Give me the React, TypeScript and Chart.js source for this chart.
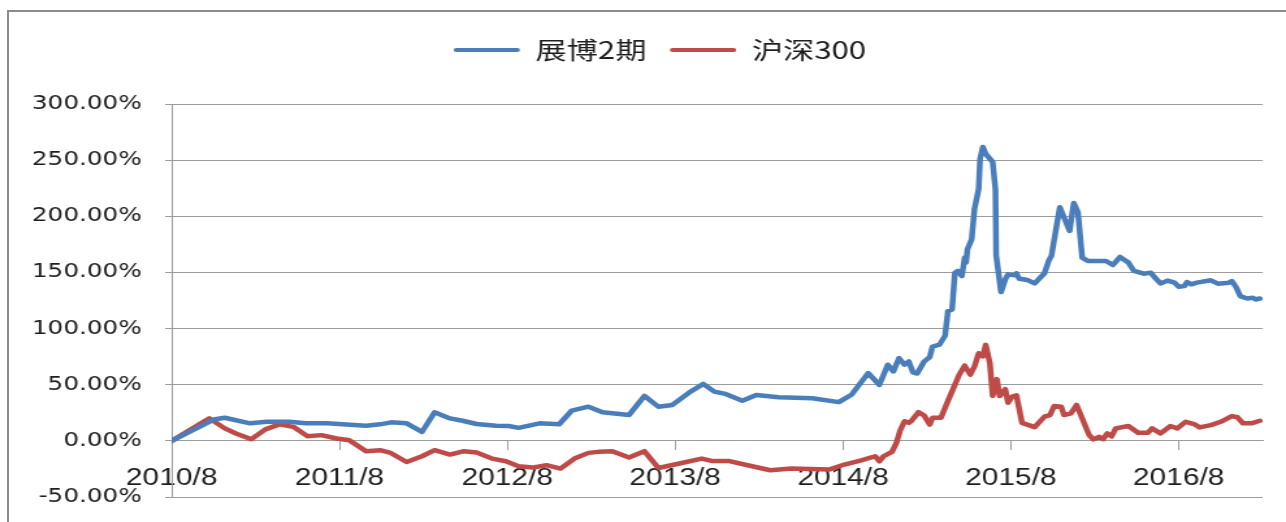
import React, { useEffect, useRef } from "react";
import { Chart, registerables } from "chart.js";

Chart.register(...registerables);

// internal drawing width, stretched horizontally to the full 1286px picture
const W = 989;
const H = 522;
const S = 1286 / W;

const seriesNames = ["展博2期", "沪深300"];
const BLUE = "#4A7EBB";
const RED = "#BE4B48";
const GRID = "#9c9c9c";
const TEXT = "#1e1e1e";

// x values are months counted from 2010/8
const xTickMonths = [0, 12, 24, 36, 48, 60, 72];
const xTickLabels = ["2010/8", "2011/8", "2012/8", "2013/8", "2014/8", "2015/8", "2016/8"];
const yTickValues = [-50, 0, 50, 100, 150, 200, 250, 300];

const zbMonths = [
  0, 3.0, 3.8, 5.6, 6.8, 8.4, 9.6, 11.1, 12.2, 13.9, 14.9, 15.7, 16.8, 17.9, 18.8, 19.9, 20.8, 21.8,
  23.2, 24.1, 24.8, 26.3, 27.7, 28.6, 29.8, 30.8, 32.7, 33.8, 34.8, 35.8, 37, 38, 38.8, 39.6, 40.8,
  41.8, 43.4, 45.8, 47.7, 48.6, 49.8, 50.6, 51.2, 51.6, 52, 52.4, 52.7, 53, 53.3, 53.8, 54.2, 54.4,
  54.9, 55.3, 55.5, 55.8, 56, 56.2, 56.5, 56.7, 56.8, 56.9, 57.2, 57.4, 57.7, 57.8, 58, 58.2, 58.7,
  58.9, 58.95, 59.3, 59.6, 59.8, 60.3, 60.4, 60.6, 61.2, 61.7, 62.4, 62.7, 62.9, 63.5, 63.8, 64.2,
  64.5, 64.8, 65.1, 65.5, 66.8, 67.3, 67.8, 68.4, 68.8, 69.5, 70, 70.3, 70.7, 71.2, 71.7, 72, 72.4,
  72.6, 72.9, 73.3, 74.3, 74.8, 75.6, 75.8, 76.1, 76.4, 76.9, 77.3, 77.5, 77.8,
];
const zbValues = [
  0, 19, 20.6, 15.6, 17, 17, 15.6, 15.6, 14.7, 13.4, 14.7, 16.5, 15.6, 8, 25.4, 20, 17.9, 15,
  13.4, 13.2, 11.6, 15.6, 14.7, 26.9, 30.4, 25.4, 23, 40, 30.4, 32, 43, 50.7, 43.9, 41.8, 35.8,
  40.9, 38.8, 37.9, 34.5, 41, 60.3, 49.9, 67.8, 61.8, 73.7, 67.8, 70.7, 60.9, 60, 70.7, 74.6, 84,
  85.7, 93.7, 115.5, 117, 149.8, 151.3, 146.8, 163.2, 158.8, 170.7, 179.6, 206.5, 224.4, 251.2, 261.7, 255.7, 248.3,
  224, 165, 132.5, 143.8, 148.3, 147.4, 149.2, 144.4, 143.2, 140.2, 149.2, 160.2, 164.7, 208, 199, 187,
  211.8, 203.5, 163.2, 160.2, 160.2, 156.6, 163.8, 158.8, 151.3, 148.9, 149.8, 145.4, 140.2, 142.7, 140.9, 137.3, 137.8,
  141.4, 139.4, 140.9, 143, 140, 140.9, 142.3, 137, 128.9, 126.8, 127.4, 125.9, 126.8,
];

const hsMonths = [
  0, 2.7, 3.8, 4.6, 5.7, 6.7, 7.7, 8.7, 9.7, 10.7, 11.8, 12.7, 13.9, 14.9, 15.6, 16.8, 17.9, 18.8,
  19.9, 20.9, 21.8, 22.9, 23.9, 24.8, 25.8, 26.8, 27.8, 28.8, 29.8, 30.5, 31.5, 32.7, 33.8, 34.8,
  36.3, 37.9, 38.6, 39.8, 41.5, 42.8, 44.3, 47, 48.1, 49.3, 50.3, 50.6, 50.9, 51.5, 51.8, 52.1, 52.4,
  52.7, 52.9, 53.4, 53.8, 54.2, 54.4, 55, 55.5, 56, 56.3, 56.7, 57.1, 57.4, 57.7, 58, 58.2, 58.5,
  58.7, 59, 59.2, 59.6, 59.8, 60.1, 60.4, 60.8, 61.7, 62.4, 62.8, 63.1, 63.6, 63.8, 64.3, 64.7, 65.3,
  65.6, 65.9, 66.3, 66.6, 66.9, 67.2, 67.5, 68.4, 69.1, 69.8, 70.1, 70.7, 71.4, 71.9, 72.5, 73.1, 73.5,
  74.3, 75, 75.8, 76.2, 76.6, 77.2, 77.8,
];
const hsValues = [
  0, 20, 11.1, 6.6, 1.5, 10.2, 14.7, 12.5, 4.2, 5.1, 2.1, 0.6, -9.2, -8.3, -10.4, -18.8, -13.7, -8.3,
  -12.2, -9.2, -10.4, -15.8, -18.2, -22.6, -23.8, -21.7, -24.7, -15.8, -10.7, -9.8, -9.2, -14.9, -9.2, -24.2,
  -20.2, -15.8, -17.9, -17.9, -22.6, -26.2, -24.7, -25.6, -21.1, -17.3, -13.7, -18.2, -13.7, -9.8, -2.3, 9.6, 17.5,
  16.1, 17.9, 25.5, 22.5, 14.5, 20.5, 20.5, 35.5, 50, 58.8, 67, 59, 66.2, 78, 75.2, 85.5, 69.3,
  40, 55, 40, 46, 34, 39.5, 40.5, 16, 12.2, 21.5, 23, 31.1, 30.4, 23, 24.5, 32, 14,
  5.1, 1.3, 3.6, 1.5, 6.6, 4, 11.1, 13.2, 7.2, 7.2, 11.1, 6.6, 13.2, 11.1, 17, 15, 12,
  14, 17, 22.1, 21, 15.6, 15.6, 17.9,
];

const toPoints = (xs: number[], ys: number[]) => xs.map((x, i) => ({ x, y: ys[i] }));

// nudge the legend box (internal px) after the layout is done
const LEG_DX = 22;
const LEG_DY = 32;
const legendShift = {
  id: "legendShift",
  afterLayout(chart: any) {
    const lg = chart.legend;
    if (!lg) return;
    lg.left += LEG_DX;
    lg.right += LEG_DX;
    lg.top -= LEG_DY;
    lg.bottom -= LEG_DY;
  },
};

export default function App() {
  const ref = useRef<HTMLCanvasElement | null>(null);

  useEffect(() => {
    if (!ref.current) return;
    const chart = new Chart(ref.current, {
      type: "line",
      plugins: [legendShift],
      data: {
        datasets: [
          {
            label: seriesNames[0],
            data: toPoints(zbMonths, zbValues),
            borderColor: BLUE,
            backgroundColor: BLUE,
            borderWidth: 4.5,
            pointRadius: 0,
            tension: 0,
            borderJoinStyle: "round",
            borderCapStyle: "round",
          },
          {
            label: seriesNames[1],
            data: toPoints(hsMonths, hsValues),
            borderColor: RED,
            backgroundColor: RED,
            borderWidth: 4.5,
            pointRadius: 0,
            tension: 0,
            borderJoinStyle: "round",
            borderCapStyle: "round",
          },
        ],
      },
      options: {
        animation: false,
        responsive: true,
        maintainAspectRatio: false,
        parsing: false,
        layout: { padding: { left: 0, right: 18, top: 52, bottom: 25 } },
        plugins: {
          tooltip: { enabled: false },
          legend: {
            position: "top",
            align: "center",
            labels: {
              boxWidth: 51,
              boxHeight: 4,
              padding: 18,
              color: TEXT,
              useBorderRadius: true,
              font: { family: '"Noto Sans CJK SC", "Noto Sans", sans-serif', size: 24 },
              generateLabels: (c: any) =>
                c.data.datasets.map((d: any, i: number) => ({
                  text: d.label,
                  fillStyle: d.borderColor,
                  strokeStyle: d.borderColor,
                  lineWidth: 0,
                  borderRadius: 2,
                  hidden: false,
                  datasetIndex: i,
                  fontColor: TEXT,
                })),
            },
          },
        },
        scales: {
          x: {
            type: "linear",
            min: 0,
            max: 78,
            position: { y: 0 },
            afterBuildTicks: (s: any) => {
              s.ticks = xTickMonths.map((v) => ({ value: v }));
            },
            ticks: {
              callback: (_v: any, i: number) => xTickLabels[i],
              font: { family: '"Liberation Sans", Arial, sans-serif', size: 23 },
              color: TEXT,
              padding: 15,
              maxRotation: 0,
              autoSkip: false,
            },
            grid: { drawOnChartArea: false, drawTicks: true, tickLength: 9, color: GRID, lineWidth: 1 },
            border: { display: true, color: GRID, width: 1 },
          },
          y: {
            type: "linear",
            min: -50,
            max: 300,
            afterBuildTicks: (s: any) => {
              s.ticks = yTickValues.map((v) => ({ value: v }));
            },
            afterFit: (s: any) => {
              s.width = 132;
              s.paddingTop = 0;
              s.paddingBottom = 0;
            },
            ticks: {
              callback: (v: any) => Number(v).toFixed(2) + "%",
              font: { family: '"DejaVu Sans", sans-serif', size: 19 },
              color: TEXT,
              padding: 18,
            },
            grid: { color: GRID, lineWidth: 1, tickLength: 5, drawTicks: true },
            border: { display: true, color: GRID, width: 1 },
          },
        },
      },
    });
    return () => chart.destroy();
  }, []);

  return (
    <div
      style={{
        position: "fixed",
        left: 0,
        top: 0,
        width: 1286,
        height: 522,
        overflow: "hidden",
        background: "#ffffff",
      }}
    >
      <div
        style={{
          position: "absolute",
          left: 0,
          top: 0,
          width: W,
          height: H,
          transform: `scaleX(${S})`,
          transformOrigin: "0 0",
        }}
      >
        <canvas ref={ref} />
      </div>
      <div
        style={{
          position: "absolute",
          left: 7,
          top: 10,
          right: -5,
          bottom: -5,
          borderLeft: "2px solid #8c8c8c",
          borderTop: "2px solid #8c8c8c",
          pointerEvents: "none",
        }}
      />
    </div>
  );
}
